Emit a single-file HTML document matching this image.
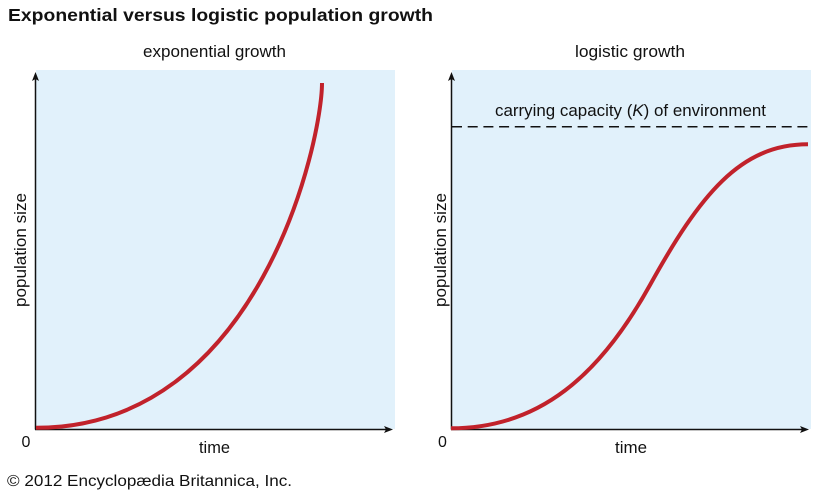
<!DOCTYPE html>
<html>
<head>
<meta charset="utf-8">
<style>
html,body{margin:0;padding:0;background:#fff;}
svg{display:block;}
text{font-family:"Liberation Sans",Arial,sans-serif;fill:#111;}
</style>
</head>
<body>
<svg width="825" height="494" viewBox="0 0 825 494" xmlns="http://www.w3.org/2000/svg">
  <!-- Title -->
  <text x="8" y="21" font-size="17.5" font-weight="bold" textLength="425" lengthAdjust="spacingAndGlyphs">Exponential versus logistic population growth</text>

  <!-- Left panel -->
  <rect x="36" y="70" width="359" height="359" fill="#e1f1fb"/>
  <text x="143" y="57" font-size="16.5" textLength="143" lengthAdjust="spacingAndGlyphs">exponential growth</text>
  <line x1="35.5" y1="78" x2="35.5" y2="429.5" stroke="#111" stroke-width="1.5"/>
  <polygon points="35.5,72 32,81 35.5,79 39,81" fill="#111"/>
  <line x1="35" y1="429.5" x2="387" y2="429.5" stroke="#111" stroke-width="1.5"/>
  <polygon points="393,429.5 384,426 386,429.5 384,433" fill="#111"/>
  <path fill="none" stroke="#c1222b" stroke-width="4" stroke-linecap="butt"
    d="M36,427.8 C260,427.8 322,140 322,83"/>
  <text x="26" y="447" font-size="16" text-anchor="middle">0</text>
  <text x="199" y="453" font-size="16.5" textLength="31" lengthAdjust="spacingAndGlyphs">time</text>
  <text transform="translate(26,250) rotate(-90)" font-size="16.5" text-anchor="middle" textLength="114" lengthAdjust="spacingAndGlyphs">population size</text>

  <!-- Right panel -->
  <rect x="452" y="70" width="359" height="359" fill="#e1f1fb"/>
  <text x="575" y="57" font-size="16.5" textLength="110" lengthAdjust="spacingAndGlyphs">logistic growth</text>
  <text x="495" y="116" font-size="16.5" textLength="271" lengthAdjust="spacingAndGlyphs">carrying capacity (<tspan font-style="italic">K</tspan>) of environment</text>
  <line x1="452" y1="126.7" x2="811" y2="126.7" stroke="#111" stroke-width="1.5" stroke-dasharray="10,5.7"/>
  <line x1="451.5" y1="78" x2="451.5" y2="429.5" stroke="#111" stroke-width="1.5"/>
  <polygon points="451.5,72 448,81 451.5,79 455,81" fill="#111"/>
  <line x1="451" y1="429.5" x2="803" y2="429.5" stroke="#111" stroke-width="1.5"/>
  <polygon points="809,429.5 800,426 802,429.5 800,433" fill="#111"/>
  <path fill="none" stroke="#c1222b" stroke-width="4"
    d="M451,428.3 C540,428.3 600,375 650,285 C700,195 740,144.3 808,144.3"/>
  <text x="442.5" y="447" font-size="16" text-anchor="middle">0</text>
  <text x="615" y="453" font-size="16.5" textLength="32" lengthAdjust="spacingAndGlyphs">time</text>
  <text transform="translate(446,250) rotate(-90)" font-size="16.5" text-anchor="middle" textLength="114" lengthAdjust="spacingAndGlyphs">population size</text>

  <!-- Copyright -->
  <text x="7" y="486" font-size="16" textLength="285" lengthAdjust="spacingAndGlyphs">© 2012 Encyclopædia Britannica, Inc.</text>
</svg>
</body>
</html>
